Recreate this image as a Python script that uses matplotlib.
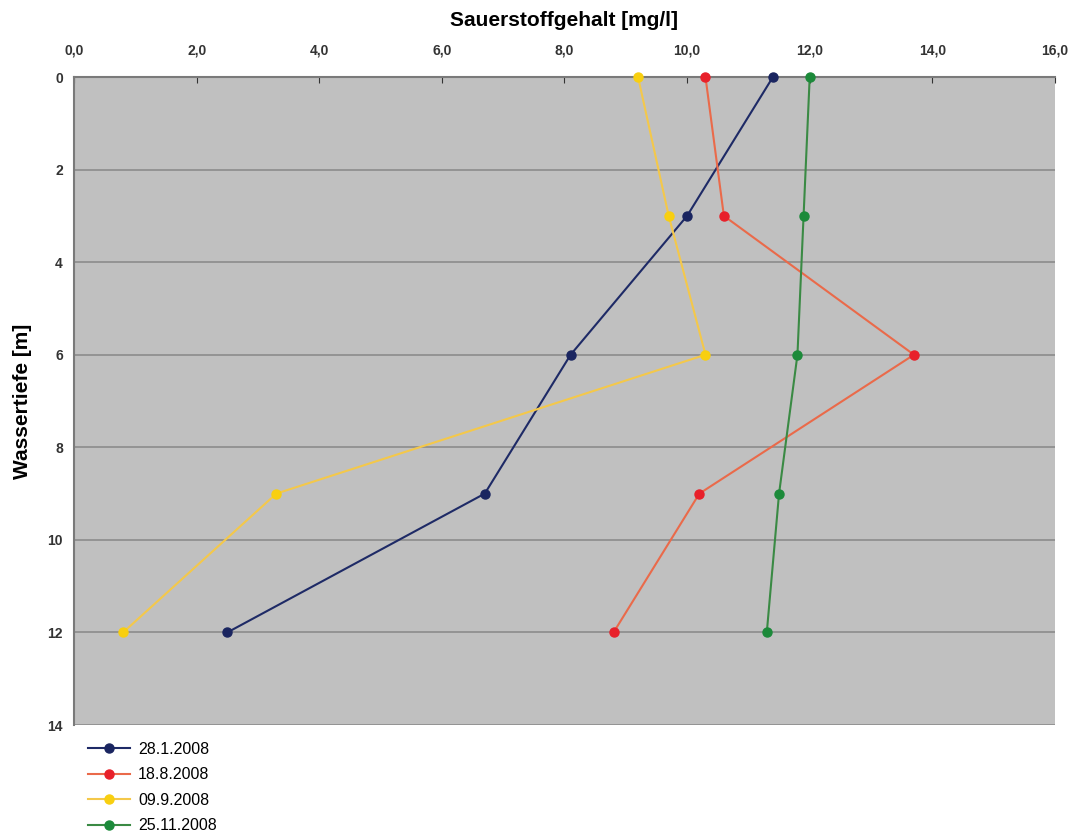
import matplotlib
matplotlib.use("Agg")
import matplotlib.pyplot as plt

# depth (m) and oxygen (mg/l) per sampling date
depth = [0, 3, 6, 9, 12]
o2_jan = [11.4, 10.0, 8.1, 6.7, 2.5]
o2_aug = [10.3, 10.6, 13.7, 10.2, 8.8]
o2_sep = [9.2, 9.7, 10.3, 3.3, 0.8]
o2_nov = [12.0, 11.9, 11.8, 11.5, 11.3]
labels = ["28.1.2008", "18.8.2008", "09.9.2008", "25.11.2008"]

x_ticks = [0, 2, 4, 6, 8, 10, 12, 14, 16]
y_ticks = [0, 2, 4, 6, 8, 10, 12, 14]

plt.rcParams['font.family'] = ['Liberation Sans', 'DejaVu Sans']

fig = plt.figure(figsize=(10.79, 8.38), dpi=100)
ax = fig.add_axes([0.0686, 0.1348, 0.9091, 0.7733])
ax.set_facecolor("#c0c0c0")

series = [
    (o2_jan, "#1e2a66", "#1a2560"),
    (o2_aug, "#ea6a4a", "#e8202a"),
    (o2_sep, "#f4c84a", "#f8cf10"),
    (o2_nov, "#3a8a44", "#1c8a3a"),
]
for (vals, lc, mc), lab in zip(series, labels):
    ax.plot(vals, depth, color=lc, linewidth=1.5, marker="o", markersize=6.5,
            markerfacecolor=mc, markeredgecolor=mc, label=lab, clip_on=False, zorder=3)

ax.set_xlim(0, 16)
ax.set_ylim(14, 0)
ax.xaxis.tick_top()
ax.xaxis.set_label_position("top")
ax.set_xticks(x_ticks)
ax.set_xticklabels([f"{v:.1f}".replace(".", ",") for v in x_ticks])
ax.set_yticks(y_ticks)
ax.yaxis.grid(True, color="#8c8c8c", linewidth=1.2)
ax.tick_params(axis="both", labelsize=10, colors="#333333", length=4, direction="in")
ax.tick_params(axis="y", length=0, pad=8)
ax.tick_params(axis="x", pad=14)
for lbl in ax.get_xticklabels() + ax.get_yticklabels():
    lbl.set_fontweight("bold")

for s in ["right", "bottom"]:
    ax.spines[s].set_visible(False)
ax.spines["top"].set_color("#7a7a7a")
ax.spines["top"].set_linewidth(1.5)
ax.spines["left"].set_color("#7a7a7a")
ax.spines["left"].set_linewidth(1.5)

ax.set_xlabel("Sauerstoffgehalt [mg/l]", fontsize=15, fontweight="bold", labelpad=13)
ax.set_ylabel("Wassertiefe [m]", fontsize=15, fontweight="bold", labelpad=11)

leg = ax.legend(loc="upper left", bbox_to_anchor=(0.0, -0.004), frameon=False,
                fontsize=11.5, handlelength=2.6, handletextpad=0.5,
                labelspacing=0.65, borderaxespad=0.5)

fig.savefig("out.png", dpi=100)
